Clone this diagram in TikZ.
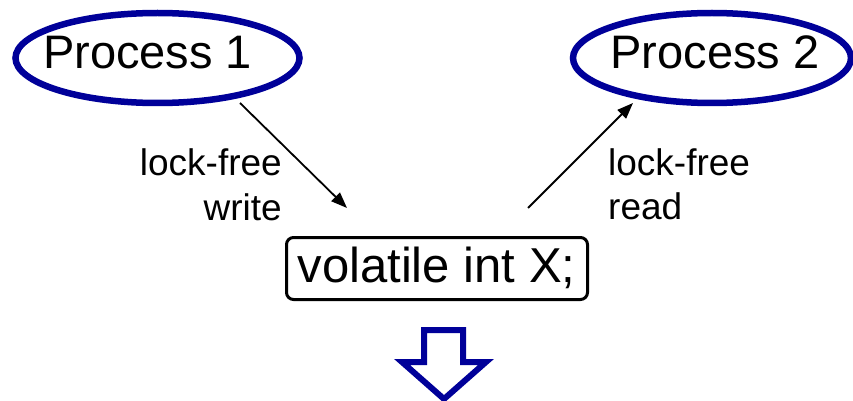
\documentclass[tikz,border=0pt]{standalone}
\usepackage{fontspec}
\setmainfont{Liberation Sans}
\usetikzlibrary{arrows.meta,shapes.geometric}
\definecolor{navy}{RGB}{0,0,153}
\tikzset{
  proc/.style={draw=navy, line width=6.5pt, ellipse, inner sep=0pt},
  ptext/.style={anchor=base, inner sep=0pt, font=\fontsize{47}{56}\selectfont},
  lbl/.style={inner sep=0pt, font=\fontsize{37}{44}\selectfont},
  varbox/.style={draw=black, line width=3pt, rounded corners=7pt, inner sep=0pt},
  conn/.style={draw=black, line width=1.8pt, -{Triangle[length=16pt,width=12pt]}},
  blockarrow/.style={draw=navy, line width=6pt, miter limit=10}
}
\begin{document}
\begin{tikzpicture}[x=1pt,y=-1pt]
\useasboundingbox (0,0) rectangle (853,401);
% processes
\node[proc, minimum width=284pt, minimum height=90pt] (p1) at (157.5,58) {};
\node[ptext] (p1t) at (147.5,69) {Process 1};
\node[proc, minimum width=278pt, minimum height=90pt] (p2) at (712,58) {};
\node[ptext] (p2t) at (715,69) {Process 2};
% variable box
\node[varbox, minimum width=301pt, minimum height=62pt] (box) at (437,268.5) {};
\node[anchor=base, inner sep=0pt, font=\fontsize{49}{58}\selectfont] (boxt) at (436.5,282) {volatile int X;};
% connector end points
\coordinate (w0) at (240,103);
\coordinate (w1) at (347,208);
\coordinate (r0) at (528,208);
\coordinate (r1) at (633,103);
\draw[conn] (w0) -- (w1);
\draw[conn] (r0) -- (r1);
% labels
\node[lbl, anchor=base east] (wl1) at (282,175) {lock-free};
\node[lbl, anchor=base east] (wl2) at (282,220) {write};
\node[lbl, anchor=base west] (rl1) at (608,175) {lock-free};
\node[lbl, anchor=base west] (rl2) at (608,219) {read};
% block arrow
\draw[blockarrow] (424,330) -- (463,330) -- (463,362) -- (486,362) -- (444,399) -- (402,362) -- (424,362) -- cycle;
\end{tikzpicture}
\end{document}
